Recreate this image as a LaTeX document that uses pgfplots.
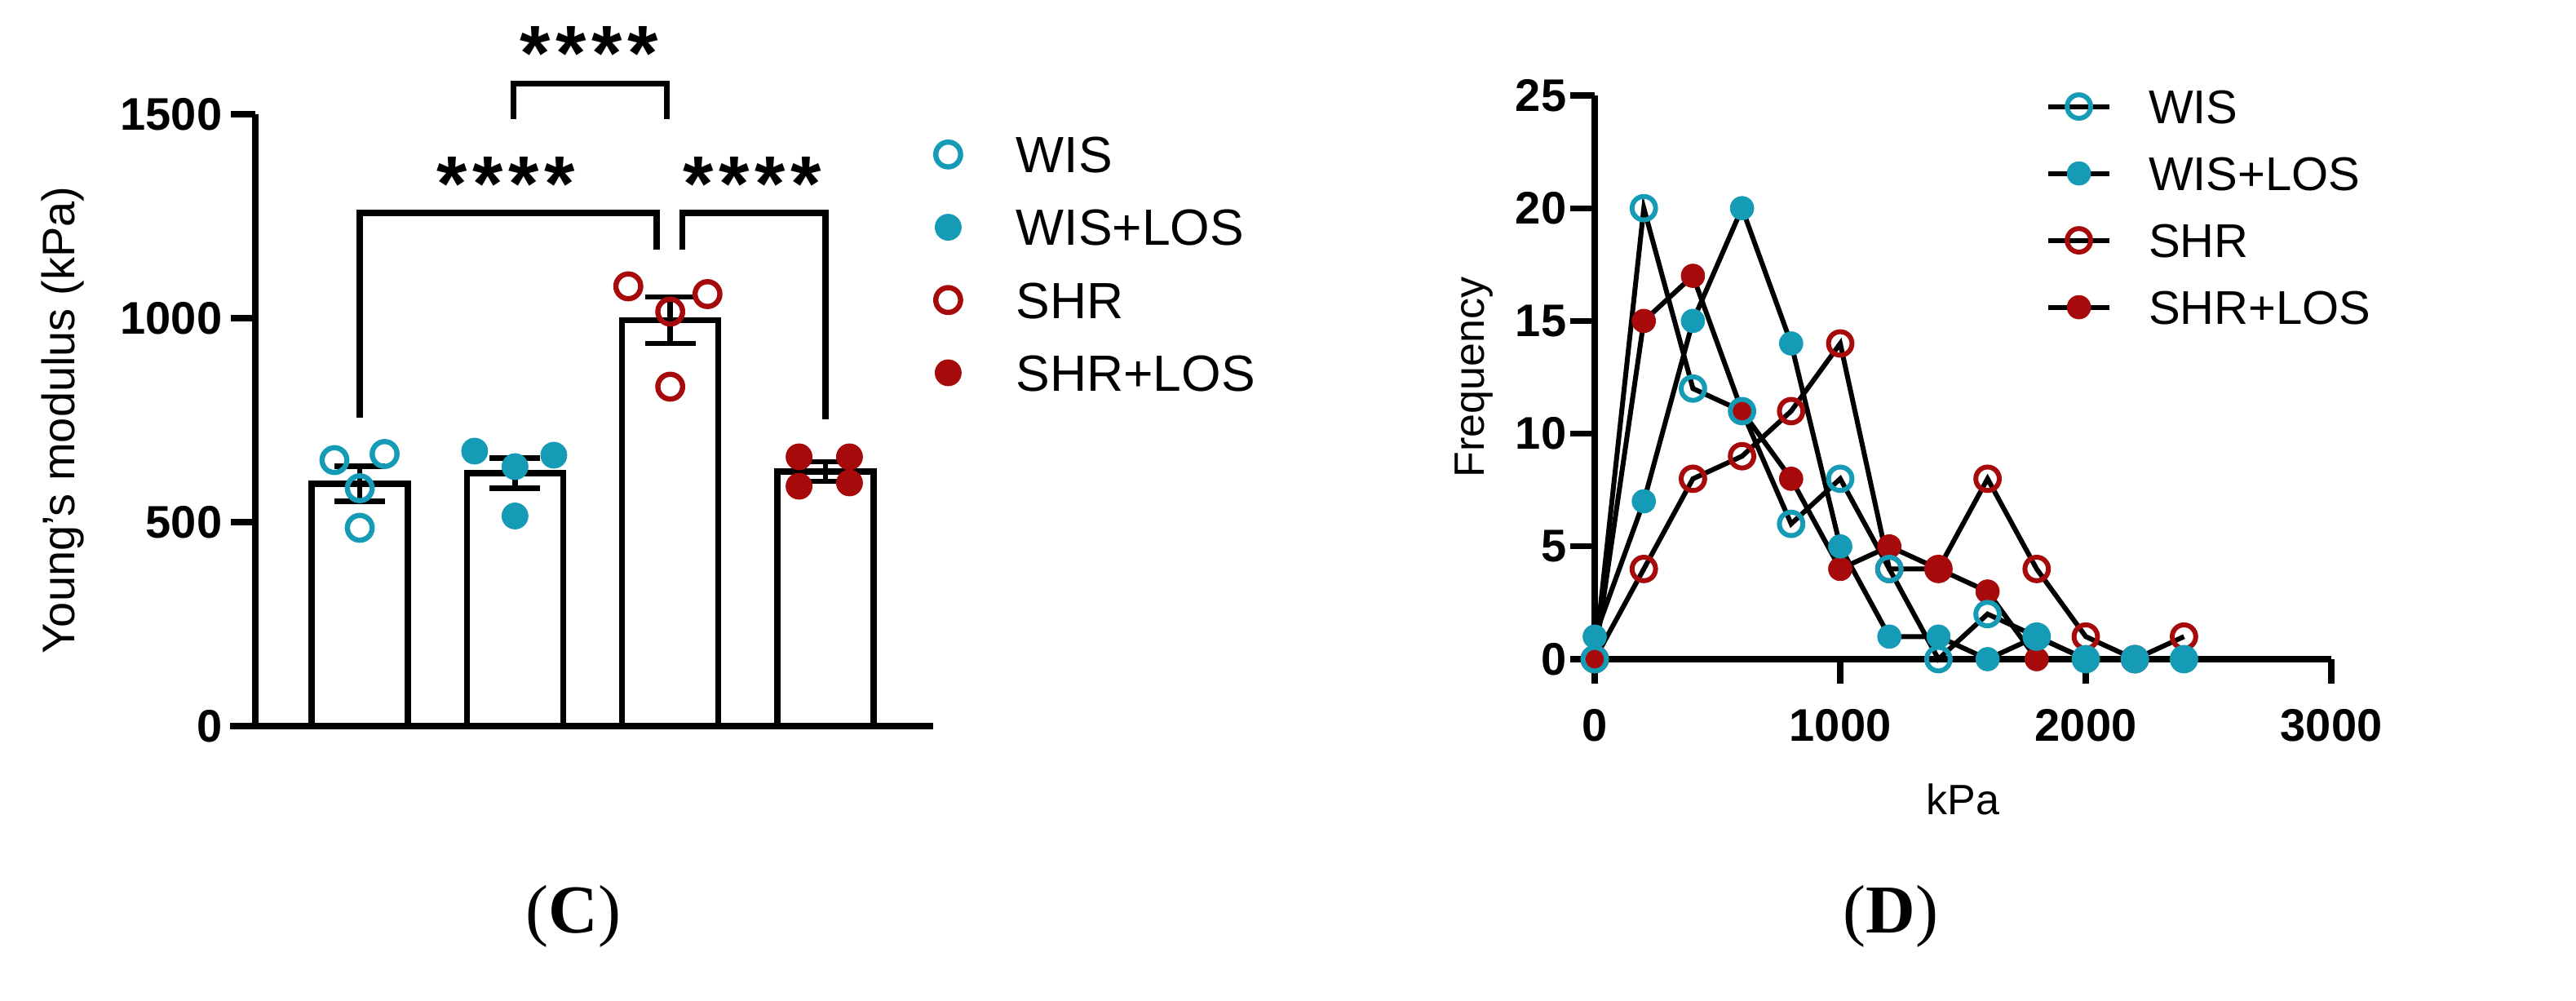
\documentclass[border=0pt]{standalone}
\usepackage{pgfplots}
\pgfplotsset{compat=1.18}
\usepackage{fontspec}
\setmainfont{Liberation Sans}
\newfontfamily\serifC{Liberation Serif}
\definecolor{wteal}{RGB}{22,155,182}
\definecolor{sred}{RGB}{166,10,10}
\begin{document}
\begin{tikzpicture}
\useasboundingbox (0,0) rectangle (789.5pt,306.75pt);
% ---------------- Left panel (C) ----------------
\begin{axis}[
  at={(78.25pt,84.25pt)}, anchor=south west,
  scale only axis, width=207.75pt, height=187.5pt,
  xmin=-0.673, xmax=3.694, ymin=0, ymax=1500,
  clip=false,
  hide x axis,
  axis y line*=left,
  y axis line style={line width=2pt, -},
  ytick={0,500,1000,1500},
  tick align=outside,
  major tick length=7.5pt,
  ytick style={line width=1.8pt, black},
  /pgf/number format/assume math mode=true,
  /pgf/number format/set thousands separator={},
  yticklabel style={font=\fontsize{14}{14}\selectfont\bfseries, inner sep=0pt, xshift=-2.5pt},
  ylabel={Young's modulus (kPa)},
  ylabel style={at={(axis description cs:-0.284,0.5)}, anchor=center, font=\fontsize{14}{14}\selectfont},
  legend style={draw=none, fill=none, at={(axis description cs:1.0029,0.964)}, anchor=north west,
    inner sep=0pt, outer sep=0pt, row sep=11.1pt, column sep=16.85pt,
    nodes={inner sep=0pt, text height=11.2pt, text depth=0pt, font=\fontsize{15.6}{15.6}\selectfont}},
  legend cell align=left,
  legend image code/.code={\draw[#1] plot coordinates {(0pt,0pt)};},
]
\addplot[ybar, bar width=29.5pt, bar shift=0pt, draw=black, fill=white, line width=1.8pt, forget plot,
  error bars/.cd, y dir=both, y explicit,
  error bar style={line width=1.6pt, black},
  error mark options={rotate=90, line width=1.6pt, mark size=7.75pt, black}]
  table[x=x, y=y, y error=e] {
x y e
0 594 43
1 620 37
2 995 57
3 624 24
};
\addplot[only marks, mark=o, mark size=3.8pt, mark options={line width=1.6pt, draw=wteal}]
  coordinates {(-0.163,652) (0.16,667) (0,583) (0,486)};
\addlegendentry{WIS}
\addplot[only marks, mark=*, mark size=4pt, mark options={draw=wteal, fill=wteal, line width=0.2pt}]
  coordinates {(0.74,674) (1.25,664) (1,636) (1,515)};
\addlegendentry{WIS+LOS}
\addplot[only marks, mark=o, mark size=3.8pt, mark options={line width=1.6pt, draw=sred}]
  coordinates {(1.73,1078) (2.24,1059) (2,1016) (2,832)};
\addlegendentry{SHR}
\addplot[only marks, mark=*, mark size=4pt, mark options={draw=sred, fill=sred, line width=0.2pt}]
  coordinates {(2.83,660) (3.155,660) (2.83,588) (3.155,596)};
\addlegendentry{SHR+LOS}
% x axis line (extends left past the y axis)
\draw[line width=2pt] ([xshift=-7.75pt]axis cs:-0.673,0) -- (axis cs:3.694,0);
% significance brackets
\draw[line width=1.8pt] (axis cs:0.99,1488) -- (axis cs:0.99,1575) -- (axis cs:1.98,1575) -- (axis cs:1.98,1488);
\draw[line width=1.8pt] (axis cs:0,755) -- (axis cs:0,1258) -- (axis cs:1.913,1258) -- (axis cs:1.913,1168);
\draw[line width=1.8pt] (axis cs:2.076,1168) -- (axis cs:2.076,1258) -- (axis cs:3,1258) -- (axis cs:3,751);
\node[anchor=north, inner sep=0pt, font=\fontsize{24}{24}\selectfont\bfseries] at (axis cs:1.479,1716) {*\kern1.7pt*\kern1.7pt*\kern1.7pt*};
\node[anchor=north, inner sep=0pt, font=\fontsize{24}{24}\selectfont\bfseries] at (axis cs:0.94,1397) {*\kern1.7pt*\kern1.7pt*\kern1.7pt*};
\node[anchor=north, inner sep=0pt, font=\fontsize{24}{24}\selectfont\bfseries] at (axis cs:2.53,1397) {*\kern1.7pt*\kern1.7pt*\kern1.7pt*};
\end{axis}
% ---------------- Right panel (D) ----------------
\begin{axis}[
  at={(488.75pt,104.75pt)}, anchor=south west,
  scale only axis, width=225.75pt, height=172.75pt,
  xmin=0, xmax=3000, ymin=0, ymax=25,
  clip=false,
  axis lines=left,
  axis line style={line width=2pt, -},
  xtick={0,1000,2000,3000}, ytick={0,5,10,15,20,25},
  tick align=outside,
  major tick length=7.5pt,
  tick style={line width=1.8pt, black},
  /pgf/number format/assume math mode=true,
  /pgf/number format/set thousands separator={},
  yticklabel style={font=\fontsize{14}{14}\selectfont\bfseries, inner sep=0pt, xshift=-1pt},
  xticklabel style={font=\fontsize{14}{14}\selectfont\bfseries, inner sep=0pt, text height=10pt, text depth=0pt, yshift=-7.5pt},
  xlabel={kPa},
  xlabel style={at={(axis description cs:0.5,-0.249)}, anchor=center, font=\fontsize{13}{13}\selectfont},
  ylabel={Frequency},
  ylabel style={at={(axis description cs:-0.164,0.5)}, anchor=center, font=\fontsize{13}{13}\selectfont},
  legend style={draw=none, fill=none, at={(axis description cs:0.6124,1.0104)}, anchor=north west,
    inner sep=0pt, outer sep=0pt, row sep=10.1pt, column sep=11.25pt,
    nodes={inner sep=0pt, text height=10.4pt, text depth=0pt, font=\fontsize{14.5}{14.5}\selectfont}},
  legend cell align=left,
  legend image code/.code={\draw[mark repeat=2,mark phase=2,#1] plot coordinates {(0pt,0pt) (9.4pt,0pt) (18.75pt,0pt)};},
  reverse legend,
]
\addplot[black, line width=1.5pt, mark=*, mark size=3.6pt, mark options={draw=sred, fill=sred, line width=0.2pt}]
  coordinates {(0,0) (200,15) (400,17) (600,11) (800,8) (1000,4) (1200,5) (1400,4) (1600,3) (1800,0) (2000,0) (2200,0) (2400,0)};
\addlegendentry{SHR+LOS}
\addplot[black, line width=1.5pt, mark=o, mark size=3.6pt, mark options={draw=sred, line width=1.5pt}]
  coordinates {(0,0) (200,4) (400,8) (600,9) (800,11) (1000,14) (1200,4) (1400,4) (1600,8) (1800,4) (2000,1) (2200,0) (2400,1)};
\addlegendentry{SHR}
\addplot[black, line width=1.5pt, mark=*, mark size=3.6pt, mark options={draw=wteal, fill=wteal, line width=0.2pt}]
  coordinates {(0,1) (200,7) (400,15) (600,20) (800,14) (1000,5) (1200,1) (1400,1) (1600,0) (1800,1) (2000,0) (2200,0) (2400,0)};
\addlegendentry{WIS+LOS}
\addplot[black, line width=1.5pt, mark=o, mark size=3.6pt, mark options={draw=wteal, line width=1.5pt}]
  coordinates {(0,0) (200,20) (400,12) (600,11) (800,6) (1000,8) (1200,4) (1400,0) (1600,2) (1800,1) (2000,0) (2200,0) (2400,0)};
\addlegendentry{WIS}
\draw[line width=2pt] ([xshift=-7.5pt]axis cs:0,0) -- (axis cs:0,0);
\end{axis}
% panel captions
\node[anchor=center, inner sep=0pt, font=\serifC\fontsize{21}{21}\selectfont] at (175.75pt,26pt) {(\textbf{C})};
\node[anchor=center, inner sep=0pt, font=\serifC\fontsize{21}{21}\selectfont] at (579.5pt,26pt) {(\textbf{D})};
\end{tikzpicture}
\end{document}
